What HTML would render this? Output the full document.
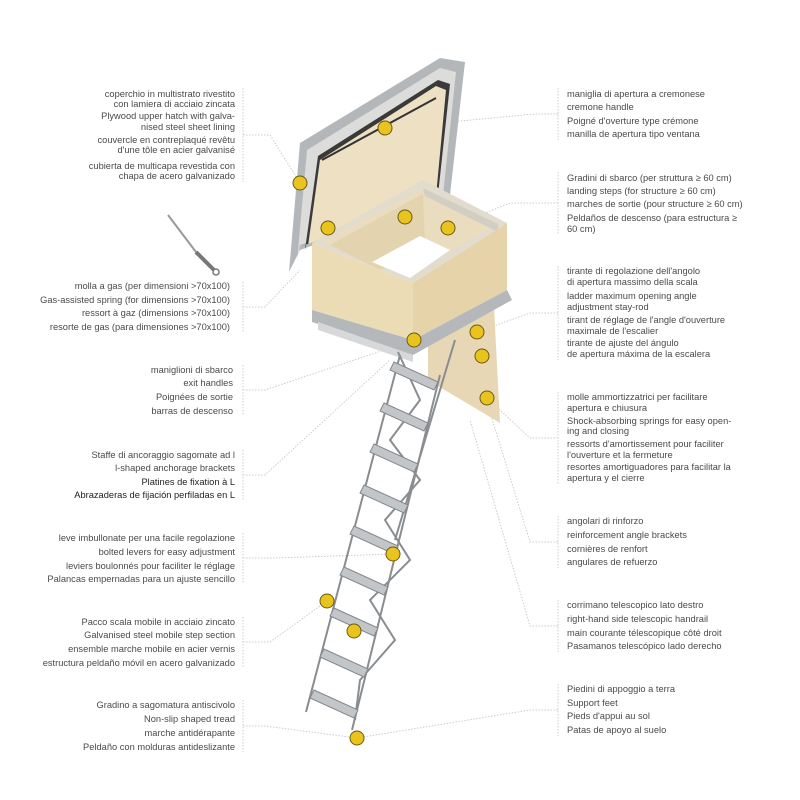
<!DOCTYPE html>
<html><head><meta charset="utf-8"><style>
body{margin:0;background:#fff}
svg{display:block}
text{font-family:"Liberation Sans",sans-serif;font-size:9.3px;fill:#4a4a4a}
.l{text-anchor:end}
.b{fill:#222}
</style></head><body>
<svg width="800" height="800" viewBox="0 0 800 800">
<rect width="800" height="800" fill="#fff"/>
<g stroke="#ccc" stroke-width="1" stroke-dasharray="1.5,1.5" fill="none">
<line x1="243" y1="88" x2="243" y2="182"/><line x1="243" y1="282" x2="243" y2="332"/>
<line x1="243" y1="365" x2="243" y2="416"/><line x1="243" y1="450" x2="243" y2="500"/>
<line x1="243" y1="533" x2="243" y2="584"/><line x1="243" y1="617" x2="243" y2="668"/>
<line x1="243" y1="700" x2="243" y2="752"/>
<line x1="558" y1="88" x2="558" y2="140"/><line x1="558" y1="172" x2="558" y2="234"/>
<line x1="558" y1="266" x2="558" y2="360"/><line x1="558" y1="392" x2="558" y2="484"/>
<line x1="558" y1="516" x2="558" y2="568"/><line x1="558" y1="600" x2="558" y2="652"/>
<line x1="558" y1="684" x2="558" y2="736"/>
<polyline points="243,135 270,135 300,183"/><polyline points="243,307 265,307 300,270"/>
<polyline points="243,390 265,390 414,340"/><polyline points="243,475 265,475 390,360"/>
<polyline points="243,558 275,558 393,554"/><polyline points="243,642 270,642 327,601"/>
<polyline points="243,726 265,726 357,738"/>
<polyline points="558,114 535,114 385,128"/><polyline points="558,203 510,203 448,228"/>
<polyline points="558,313 530,313 477,332"/><polyline points="558,438 530,438 487,398"/>
<polyline points="558,542 530,542 480,380"/><polyline points="558,626 530,626 470,420"/>
<polyline points="558,710 530,710 357,738"/>
</g>
<line x1="168" y1="215" x2="196" y2="252" stroke="#999" stroke-width="2"/>
<line x1="196" y1="252" x2="214" y2="270" stroke="#777" stroke-width="4"/>
<circle cx="216" cy="272" r="3" fill="none" stroke="#777" stroke-width="1.5"/>
<!-- lid -->
<polygon points="289,272 300,143 440,58 465,62 450,195 300,250" fill="#b4b7ba"/>
<polygon points="297,262 307,150 440,68 456,72 443,195 300,245" fill="#dcdcda"/>
<polygon points="305,250 318,156 438,80 450,84 438,195 305,245" fill="#3a3a3a"/>
<polygon points="308,246 320,160 436,86 446,90 436,196 308,244" fill="#ede0c3"/>
<path d="M322,160 L436,98" stroke="#333" stroke-width="2"/>
<!-- wall panel -->
<polygon points="428,345 494,307 500,423 428,380" fill="#e8d7b5"/>
<!-- box -->
<polygon points="312,243 423,180 507,223 413,283" fill="#e2dccf"/>
<polygon points="322,242 423,188 498,224 414,272" fill="#e9dcbf"/>
<polygon points="423,188 498,224 498,232 425,196" fill="#d3cec4"/>
<polygon points="330,245 423,194 425,250 380,270" fill="#e3d3ae"/>
<polygon points="372,262 420,236 450,250 410,278" fill="#fff"/>
<polygon points="312,243 413,283 413,340 312,310" fill="#ecdcb6"/>
<polygon points="413,283 507,223 507,290 413,340" fill="#e6d3aa"/>
<polygon points="312,310 413,340 507,290 512,300 413,355 312,322" fill="#b5b8bb"/>
<polygon points="318,322 413,355 413,362 318,330" fill="#d6d8da"/>
<!-- ladder rails -->
<g stroke="#8a8d90" stroke-width="2" fill="none">
<line x1="400" y1="355" x2="306" y2="712"/>
<line x1="440" y1="375" x2="352" y2="730"/>
<line x1="455" y1="340" x2="395" y2="540"/>
<polyline points="398,352 420,400 390,440 420,480 385,520 410,560 370,600 395,640 360,680 355,720"/>
</g>
<g fill="#c3c6c9" stroke="#84878b" stroke-width="1">
<polygon points="394,362 438,382 434,390 390,370"/>
<polygon points="384,403 428,423 424,431 380,411"/>
<polygon points="374,444 418,464 414,472 370,452"/>
<polygon points="364,485 408,505 404,513 360,493"/>
<polygon points="354,526 398,546 394,554 350,534"/>
<polygon points="344,567 388,587 384,595 340,575"/>
<polygon points="334,608 378,628 374,636 330,616"/>
<polygon points="324,649 368,669 364,677 320,657"/>
<polygon points="314,690 358,710 354,718 310,698"/>
</g>
<g fill="#e9c31e" stroke="#6b5a10" stroke-width="1">
<circle cx="300" cy="183" r="7"/><circle cx="385" cy="128" r="7"/><circle cx="328" cy="228" r="7"/>
<circle cx="405" cy="217" r="7"/><circle cx="448" cy="228" r="7"/><circle cx="414" cy="340" r="7"/>
<circle cx="477" cy="332" r="7"/><circle cx="482" cy="356" r="7"/><circle cx="487" cy="398" r="7"/>
<circle cx="393" cy="554" r="7"/><circle cx="327" cy="601" r="7"/><circle cx="354" cy="631" r="7"/>
<circle cx="357" cy="738" r="7"/>
</g>
<g>
<text class="l" x="235" y="97">coperchio in multistrato rivestito</text>
<text class="l" x="235" y="107">con lamiera di acciaio zincata</text>
<text class="l" x="235" y="119">Plywood upper hatch with galva-</text>
<text class="l" x="235" y="130">nised steel sheet lining</text>
<text class="l" x="235" y="143">couvercle en contreplaqué revêtu</text>
<text class="l" x="235" y="153">d'une tôle en acier galvanisé</text>
<text class="l" x="235" y="169">cubierta de multicapa revestida con</text>
<text class="l" x="235" y="179">chapa de acero galvanizado</text>
<text class="l" x="230" y="289">molla a gas (per dimensioni &gt;70x100)</text>
<text class="l" x="230" y="303">Gas-assisted spring (for dimensions &gt;70x100)</text>
<text class="l" x="230" y="316">ressort à gaz (dimensions &gt;70x100)</text>
<text class="l" x="230" y="330">resorte de gas (para dimensiones &gt;70x100)</text>
<text class="l" x="233" y="373">maniglioni di sbarco</text>
<text class="l" x="233" y="386">exit handles</text>
<text class="l" x="233" y="400">Poignées de sortie</text>
<text class="l" x="233" y="414">barras de descenso</text>
<text class="l" x="235" y="458">Staffe di ancoraggio sagomate ad l</text>
<text class="l" x="235" y="471">l-shaped anchorage brackets</text>
<text class="l b" x="235" y="485">Platines de fixation à L</text>
<text class="l b" x="235" y="498">Abrazaderas de fijación perfiladas en L</text>
<text class="l" x="235" y="541">leve imbullonate per una facile regolazione</text>
<text class="l" x="235" y="555">bolted levers for easy adjustment</text>
<text class="l" x="235" y="569">leviers boulonnés pour faciliter le réglage</text>
<text class="l" x="235" y="582">Palancas empernadas para un ajuste sencillo</text>
<text class="l" x="235" y="625">Pacco scala mobile in acciaio zincato</text>
<text class="l" x="235" y="638">Galvanised steel mobile step section</text>
<text class="l" x="235" y="652">ensemble marche mobile en acier vernis</text>
<text class="l" x="235" y="666">estructura peldaño móvil en acero galvanizado</text>
<text class="l" x="235" y="708">Gradino a sagomatura antiscivolo</text>
<text class="l" x="235" y="722">Non-slip shaped tread</text>
<text class="l" x="235" y="736">marche antidérapante</text>
<text class="l" x="235" y="750">Peldaño con molduras antideslizante</text>
</g>
<g>
<text x="567" y="97">maniglia di apertura a cremonese</text>
<text x="567" y="110">cremone handle</text>
<text x="567" y="124">Poigné d'overture type crémone</text>
<text x="567" y="137">manilla de apertura tipo ventana</text>
<text x="567" y="181">Gradini di sbarco (per struttura ≥ 60 cm)</text>
<text x="567" y="194">landing steps (for structure ≥ 60 cm)</text>
<text x="567" y="207">marches de sortie (pour structure ≥ 60 cm)</text>
<text x="567" y="221">Peldaños de descenso (para estructura ≥</text>
<text x="567" y="232">60 cm)</text>
<text x="567" y="274">tirante di regolazione dell'angolo</text>
<text x="567" y="285">di apertura massimo della scala</text>
<text x="567" y="299">ladder maximum opening angle</text>
<text x="567" y="310">adjustment stay-rod</text>
<text x="567" y="323">tirant de réglage de l'angle d'ouverture</text>
<text x="567" y="334">maximale de l'escalier</text>
<text x="567" y="346">tirante de ajuste del ángulo</text>
<text x="567" y="357">de apertura máxima de la escalera</text>
<text x="567" y="400">molle ammortizzatrici per facilitare</text>
<text x="567" y="411">apertura e chiusura</text>
<text x="567" y="424">Shock-absorbing springs for easy open-</text>
<text x="567" y="434">ing and closing</text>
<text x="567" y="447">ressorts d'amortissement pour faciliter</text>
<text x="567" y="458">l'ouverture et la fermeture</text>
<text x="567" y="470">resortes amortiguadores para facilitar la</text>
<text x="567" y="481">apertura y el cierre</text>
<text x="567" y="524">angolari di rinforzo</text>
<text x="567" y="538">reinforcement angle brackets</text>
<text x="567" y="552">cornières de renfort</text>
<text x="567" y="565">angulares de refuerzo</text>
<text x="567" y="608">corrimano telescopico lato destro</text>
<text x="567" y="622">right-hand side telescopic handrail</text>
<text x="567" y="636">main courante télescopique côté droit</text>
<text x="567" y="649">Pasamanos telescópico lado derecho</text>
<text x="567" y="692">Piedini di appoggio a terra</text>
<text x="567" y="706">Support feet</text>
<text x="567" y="719">Pieds d'appui au sol</text>
<text x="567" y="733">Patas de apoyo al suelo</text>
</g>
</svg>
</body></html>
